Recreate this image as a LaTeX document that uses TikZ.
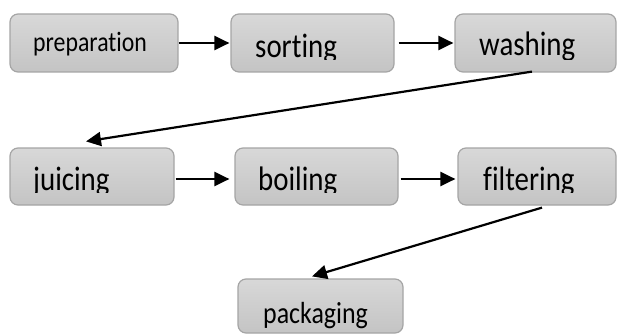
\documentclass[tikz,border=0pt]{standalone}
\usepackage{graphicx}
\usepackage{fontspec}
\setmainfont{Carlito}[Ligatures=NoCommon]
\usetikzlibrary{arrows.meta}
\definecolor{boxtop}{RGB}{216,216,216}
\definecolor{boxbot}{RGB}{196,196,196}
\definecolor{boxline}{RGB}{165,165,165}
\tikzset{
  stepbox/.style={draw=boxline, line width=1.2pt, rounded corners=8pt,
    top color=boxtop, bottom color=boxbot, inner sep=0pt},
  steplabel/.style={anchor=base west, inner sep=0pt, text=black},
  flow/.style={line width=2.2pt, -{Triangle[length=15pt,width=14pt]}},
}
% narrow, tall lettering
\newcommand{\narrow}[1]{\scalebox{0.85}[1]{#1}}
\newcommand{\stepnode}[5]{% name, x0, y0, x1, y1
  \node[stepbox, minimum width=#4-#2, minimum height=#5-#3] (#1) at ({(#2+#4)/2},{(#3+#5)/2}) {};}
\begin{document}
\begin{tikzpicture}[x=1pt, y=-1pt]
\useasboundingbox (0,0) rectangle (617,334);

% boxes, row by row
\stepnode{prep}{10}{14}{178}{72}
\stepnode{sort}{231}{14}{394}{72}
\stepnode{wash}{455}{14}{616}{72}
\stepnode{juice}{10}{148}{174}{205}
\stepnode{boil}{235}{148}{398}{205}
\stepnode{filter}{458}{148}{616}{205}
\stepnode{pack}{238}{279}{403}{333}

% labels
\node[steplabel, font=\fontsize{28}{30}\selectfont] (preptext) at (33,52) {\narrow{preparation}};
\begin{scope}
  \clip (0,0) rectangle (617,59.5);
  \node[steplabel, font=\fontsize{34}{36}\selectfont] (sorttext) at (255,58) {\narrow{sorting}};
  \node[steplabel, font=\fontsize{34}{36}\selectfont] (washtext) at (479,56) {\narrow{washing}};
\end{scope}
\begin{scope}
  \clip (0,100) rectangle (617,192.5);
  \node[steplabel, font=\fontsize{34}{36}\selectfont] (juicetext) at (33,190) {\narrow{juicing}};
  \node[steplabel, font=\fontsize{34}{36}\selectfont] (boiltext) at (258,190) {\narrow{boiling}};
  \node[steplabel, font=\fontsize{34}{36}\selectfont] (filtertext) at (483,190) {\narrow{filtering}};
\end{scope}
\node[steplabel, font=\fontsize{30.5}{33}\selectfont] (packtext) at (263,323) {\narrow{packaging}};

% connectors
\draw[flow] (prep.east) -- ([xshift=-1pt]sort.west);
\draw[flow] ([xshift=4pt]sort.east) -- ([xshift=-1pt]wash.west);
\draw[flow] ([xshift=-3.5pt,yshift=1pt]wash.south) -- ([xshift=-6pt,yshift=6pt]juice.north);
\draw[flow] ([xshift=1pt,yshift=-2.5pt]juice.east) -- ([xshift=-5pt,yshift=-2.5pt]boil.west);
\draw[flow] ([xshift=2pt,yshift=-2.5pt]boil.east) -- ([xshift=-2pt,yshift=-2.5pt]filter.west);
\draw[flow] ([xshift=5pt,yshift=-2pt]filter.south) -- ([xshift=-8.5pt,yshift=2pt]pack.north);
\end{tikzpicture}
\end{document}
